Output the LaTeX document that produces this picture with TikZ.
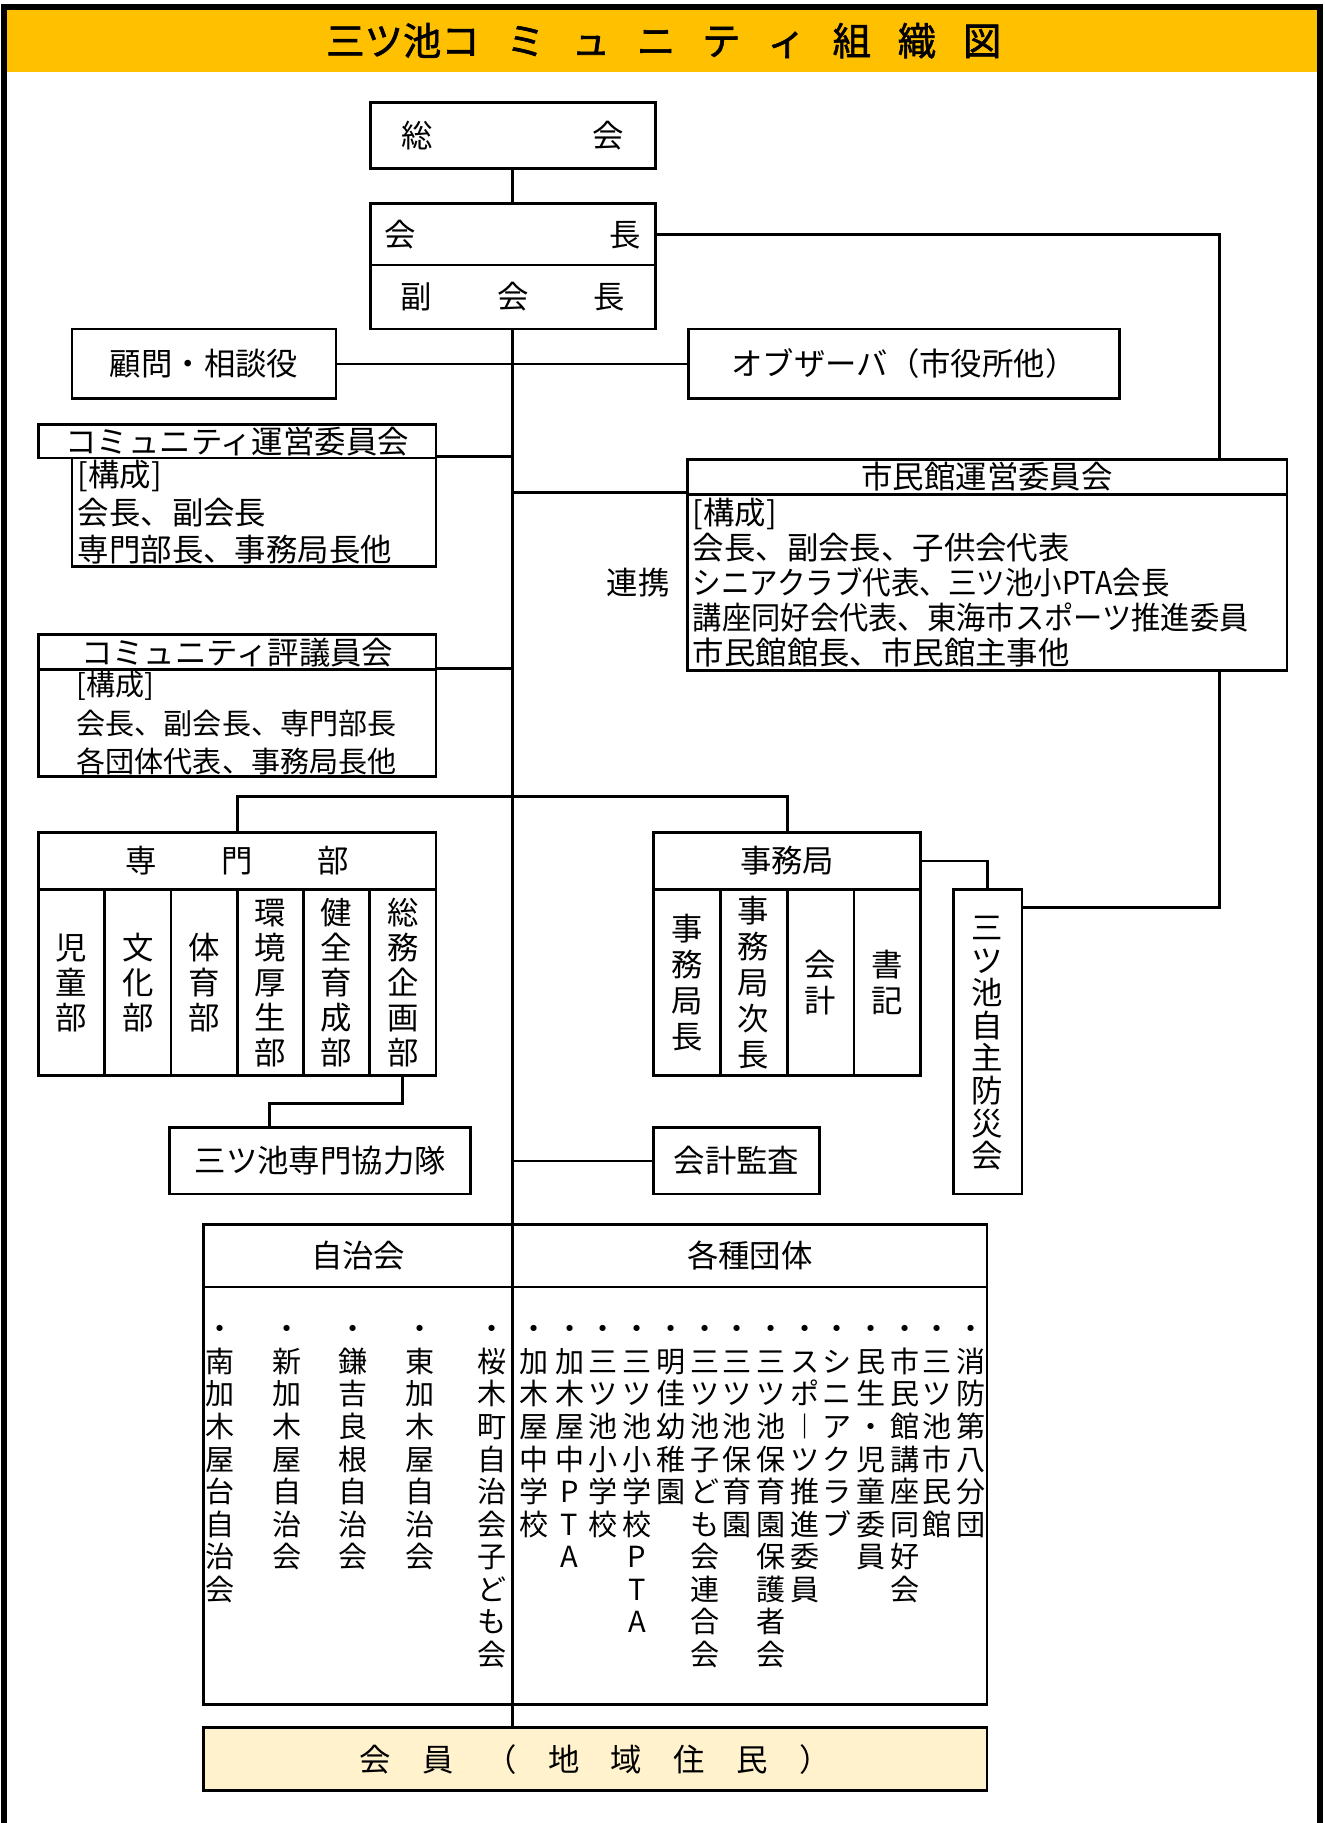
\documentclass[tikz,border=0pt]{standalone}
\usepackage{fontspec}
\usepackage{graphicx}
\setmainfont{Noto Sans CJK JP}
\newfontfamily\titlefont[FakeBold=1.5]{Noto Sans CJK JP}
\usetikzlibrary{calc}

\definecolor{titlebg}{HTML}{FFC000}
\definecolor{kaiinbg}{HTML}{FFF2CC}

% vertical text, one character per row
\makeatletter
\newcommand\tate[2][15pt]{%
  \vtop{\baselineskip=#1\lineskiplimit=-\maxdimen
    \@tfor\tch:=#2\do{\hbox to 1em{\hss\tch\hss\vrule height .88em depth .12em width 0pt}}}}
\makeatother

% one unit = one pixel of the reference
\def\px{0.5pt}

\tikzset{
  box/.style 2 args={draw, line width=1.2pt, inner sep=0pt,
    minimum width=#1*\px, minimum height=#2*\px},
  col/.style={box={#1}{160}},
  col/.default=57,
  conn/.style={line width=1.2pt},
  frame/.style={line width=2.75pt},
  vt/.style={inner sep=0pt, anchor=north, font=\fontsize{12.5}{14}\selectfont},
}

\begin{document}
\begin{tikzpicture}[x=\px, y=-\px, every node/.style={font=\fontsize{13.5}{16}\selectfont}]
\useasboundingbox (0,0) rectangle (1139,1568);

% Title band
\fill[titlebg] (3.5,6) rectangle (1135.5,62);
\node[font=\titlefont\fontsize{16.5}{20}\selectfont] (title) at (571,35)
  {三ツ池コ\hspace{.7em}ミ\hspace{.7em}ュ\hspace{.7em}ニ\hspace{.7em}テ\hspace{.7em}ィ\hspace{.7em}組\hspace{.7em}織\hspace{.7em}図};
% Frame
\draw[frame] (3.5,1568) -- (3.5,6) -- (1135.5,6) -- (1135.5,1568);

% Top
\node[box={245}{57}] (sokai) at (441,116.5) {総\hspace{5.1em}会};
\node[box={245}{53}] (kaicho) at (441,201.5) {会\hspace{6.15em}長};
\node[box={245}{55}] (fuku) at (441,255.5) {副\hspace{2.07em}会\hspace{2.07em}長};

\node[box={227}{60}] (komon) at (175.5,313) {顧問・相談役};
\node[box={371}{60}] (observer) at (777.5,313) {オブザーバ（市役所他）};

% Committees
\node[box={342}{29}] (unei-head) at (204,379.5) {コミュニティ運営委員会};
\node[box={313}{93}, align=left, inner xsep=2.5pt, text width=151.5pt,
  font=\fontsize{13.5}{16}\selectfont] (unei-body) at (218.5,440.5)
  {[構成]\\会長、副会長\\専門部長、事務局長他};

\node[box={516}{30}] (shimin-head) at (849,410) {市民館運営委員会};
\node[box={516}{152}, align=left, inner xsep=2.5pt, text width=253pt,
  font=\fontsize{13.5}{15}\selectfont] (shimin-body) at (849,501)
  {[構成]\\
   会長、副会長、子供会代表\\
   \resizebox{205pt}{\height}{シニアクラブ代表、三ツ池小PTA会長}\\
   \resizebox{239pt}{\height}{講座同好会代表、東海市スポーツ推進委員}\\
   市民館館長、市民館主事他};

\node[box={342}{30}] (hyogi-head) at (204,561) {コミュニティ評議員会};
\node[box={342}{92}, align=left, inner xsep=16.5pt, text width=138pt,
  font=\fontsize{12.5}{16.5}\selectfont] (hyogi-body) at (204,622)
  {[構成]\\会長、副会長、専門部長\\各団体代表、事務局長他};

\node (renkei) at (549,501) {連携};

% Senmon-bu
\node[box={342}{49}] (senmon) at (204,740.5) {専\hspace{2.07em}門\hspace{2.07em}部};
\node[col] (jido) at (61.5,845) {\tate{児童部}};
\node[col] (bunka) at (118.5,845) {\tate{文化部}};
\node[col] (taiiku) at (175.5,845) {\tate{体育部}};
\node[col] (kankyo) at (232.5,845) {\tate{環境厚生部}};
\node[col] (kenzen) at (289.5,845) {\tate{健全育成部}};
\node[col] (somu) at (346.5,845) {\tate{総務企画部}};

% Jimukyoku
\node[box={230}{49}] (jimu) at (677,740.5) {事務局};
\node[col=57.5] (kyokucho) at (590.75,845) {\tate[15.5pt]{事務局長}};
\node[col=57.5] (jicho) at (648.25,845) {\tate[15.5pt]{事務局次長}};
\node[col=57.5] (kaikei) at (705.75,845) {\tate[15.5pt]{会計}};
\node[col=57.5] (shoki) at (763.25,845) {\tate[15.5pt]{書記}};

\node[box={59}{262}] (bosai) at (849.5,896) {\tate[14pt]{三ツ池自主防災会}};

\node[box={259}{57}] (kyoryoku) at (275.5,998.5) {三ツ池専門協力隊};
\node[box={143}{57}] (kansa) at (633.5,998.5) {会計監査};

% Groups
\node[box={266}{54}] (jichi) at (308,1080) {自治会};
\node[box={408}{54}] (kakushu) at (645,1080) {各種団体};
\node[box={266}{359}] (jichi-list) at (308,1286.5) {};
\node[box={408}{359}] (kakushu-list) at (645,1286.5) {};

\node[vt] (minami) at (189,1130) {\tate[14pt]{・南加木屋台自治会}};
\node[vt] (shin) at (246.5,1130) {\tate[14pt]{・新加木屋自治会}};
\node[vt] (kamayoshi) at (304,1130) {\tate[14pt]{・鎌吉良根自治会}};
\node[vt] (higashi) at (361,1130) {\tate[14pt]{・東加木屋自治会}};
\node[vt] (sakuragi) at (423,1130) {\tate[14pt]{・桜木町自治会子ども会}};

\node[vt] (kachu) at (459,1130) {\tate[14pt]{・加木屋中学校}};
\node[vt] (kachu-pta) at (490,1130) {\tate[14pt]{・加木屋中PTA}};
\node[vt] (misho) at (519,1130) {\tate[14pt]{・三ツ池小学校}};
\node[vt] (misho-pta) at (548,1130) {\tate[14pt]{・三ツ池小学校PTA}};
\node[vt] (meika) at (577,1130) {\tate[14pt]{・明佳幼稚園}};
\node[vt] (kodomo) at (606,1130) {\tate[14pt]{・三ツ池子ども会連合会}};
\node[vt] (hoiku) at (634,1130) {\tate[14pt]{・三ツ池保育園}};
\node[vt] (hogosha) at (663,1130) {\tate[14pt]{・三ツ池保育園保護者会}};
\node[vt] (sports) at (692,1130) {\tate[14pt]{・スポ︱ツ推進委員}};
\node[vt] (senior) at (720,1130) {\tate[14pt]{・シニアクラブ}};
\node[vt] (minsei) at (749,1130) {\tate[14pt]{・民生・児童委員}};
\node[vt] (koza) at (778,1130) {\tate[14pt]{・市民館講座同好会}};
\node[vt] (shiminkan) at (806,1130) {\tate[14pt]{・三ツ池市民館}};
\node[vt] (shobo) at (835,1130) {\tate[14pt]{・消防第八分団}};

\node[box={674}{54}, fill=kaiinbg] (kaiin) at (512,1513)
  {会\hspace{1em}員\hspace{1em}（\hspace{1em}地\hspace{1em}域\hspace{1em}住\hspace{1em}民\hspace{1em}）};

% Connectors
\draw[conn] (sokai) -- (kaicho);
\draw[conn] (fuku.south) -- (fuku.south |- kaiin.north);
\draw[conn] (komon) -- (observer);
\draw[conn] (unei-body.north east) -- (unei-body.north east -| fuku.south);
\draw[conn] (hyogi-body.north east) -- (hyogi-body.north east -| fuku.south);
\draw[conn] (shimin-body.north west) -- (shimin-body.north west -| fuku.south);
\coordinate (rline) at (1049,201.5);
\draw[conn] (kaicho.east) -- (rline) -- (rline |- shimin-head.north);
\draw[conn] (rline |- shimin-body.south) |- ([yshift=-8.5pt]bosai.north east);
\draw[conn] (senmon.north) -- ++(0,-30) -| (jimu.north);
\draw[conn] (somu.south) -- ++(0,23) -| ([xshift=-21.75pt]kyoryoku.north);
\draw[conn] (kansa.west -| fuku.south) -- (kansa.west);
\draw[conn] (jimu.east) -| (bosai.north);
\end{tikzpicture}
\end{document}
